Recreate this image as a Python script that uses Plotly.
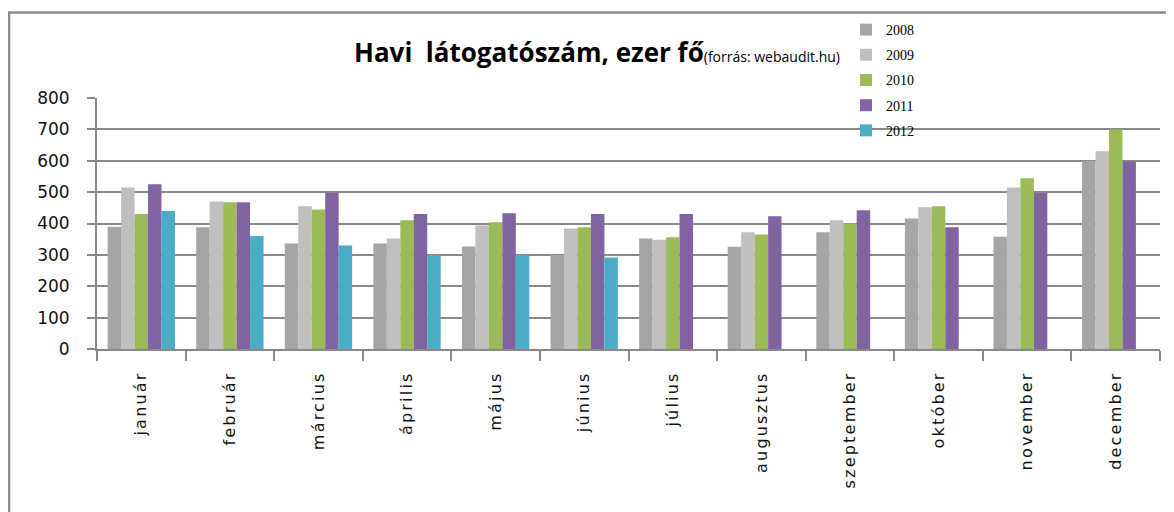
import plotly.graph_objects as go

months = ["január", "február", "március", "április", "május", "június",
          "július", "augusztus", "szeptember", "október", "november", "december"]
years = ["2008", "2009", "2010", "2011", "2012"]
v2008 = [390, 388, 336, 336, 327, 300, 352, 326, 372, 416, 358, 600]
v2009 = [515, 470, 455, 352, 394, 384, 348, 372, 410, 452, 515, 630]
v2010 = [430, 468, 445, 410, 404, 388, 356, 365, 400, 455, 544, 700]
v2011 = [525, 468, 497, 430, 433, 430, 430, 423, 442, 388, 497, 598]
v2012 = [440, 360, 330, 300, 300, 292, None, None, None, None, None, None]
colors = ["#a5a5a5", "#bfbfbf", "#9bbb59", "#8064a2", "#4bacc6"]
series = [v2008, v2009, v2010, v2011, v2012]

# page body has an 8px margin; work in page coordinates and shift
OFF = 8
W, H = 1174 - OFF, 512 - OFF
L, R, T, B = 97 - OFF, 1160 - OFF, 98 - OFF, 349 - OFF

fig = go.Figure()
for name, vals, col in zip(years, series, colors):
    fig.add_trace(go.Bar(x=months, y=vals, name=name, marker_color=col,
                         marker_line_width=0, legendgroup=name))

def px(x):
    return (x - OFF - L) / (R - L)

def py(y):
    return (B - (y - OFF)) / (B - T)

ticktext = ["<span style='letter-spacing:2.2px'>%s</span>" % m for m in months]

fig.update_layout(
    width=W, height=H,
    margin=dict(l=L, r=W - R, t=T, b=H - B, pad=0, autoexpand=False),
    paper_bgcolor="white", plot_bgcolor="white",
    barmode="group", bargap=0.24, bargroupgap=0,
    showlegend=True,
    legend=dict(x=px(846), y=py(14), xanchor="left", yanchor="top",
                font=dict(family="Liberation Serif", size=14, color="black"),
                traceorder="grouped", tracegroupgap=4,
                bgcolor="rgba(0,0,0,0)", itemwidth=30),
    shapes=[dict(type="rect", xref="paper", yref="paper",
                 x0=px(9), x1=px(1200), y0=py(530), y1=py(12.5),
                 line=dict(color="#8c8c8c", width=2.5), layer="below")],
    annotations=[dict(
        xref="paper", yref="paper", x=px(597), y=py(52),
        xanchor="center", yanchor="middle", showarrow=False,
        text="<b>Havi\u00a0\u00a0látogatószám, ezer fő</b><span style='font-size:14px'>(forrás: webaudit.hu)</span>",
        font=dict(family="Open Sans", size=26, color="black"))],
)
fig.update_yaxes(range=[0, 800], dtick=100, showgrid=True, gridcolor="#888888",
                 gridwidth=1.8, showline=True, linecolor="#888888", linewidth=1.8,
                 ticks="outside", ticklen=8, tickcolor="#888888", tickwidth=1.5,
                 ticklabelstandoff=14, zeroline=False, automargin=False,
                 tickfont=dict(family="DejaVu Sans", size=17, color="#111111"))
fig.update_xaxes(showline=True, linecolor="#888888", linewidth=2,
                 ticks="outside", tickson="boundaries", ticklen=10,
                 tickcolor="#888888", tickwidth=1.5, tickangle=-90,
                 tickmode="array", tickvals=months, ticktext=ticktext,
                 ticklabelstandoff=14, automargin=False,
                 tickfont=dict(family="DejaVu Sans", size=16, color="#111111"))

fig.write_html("out.html")
